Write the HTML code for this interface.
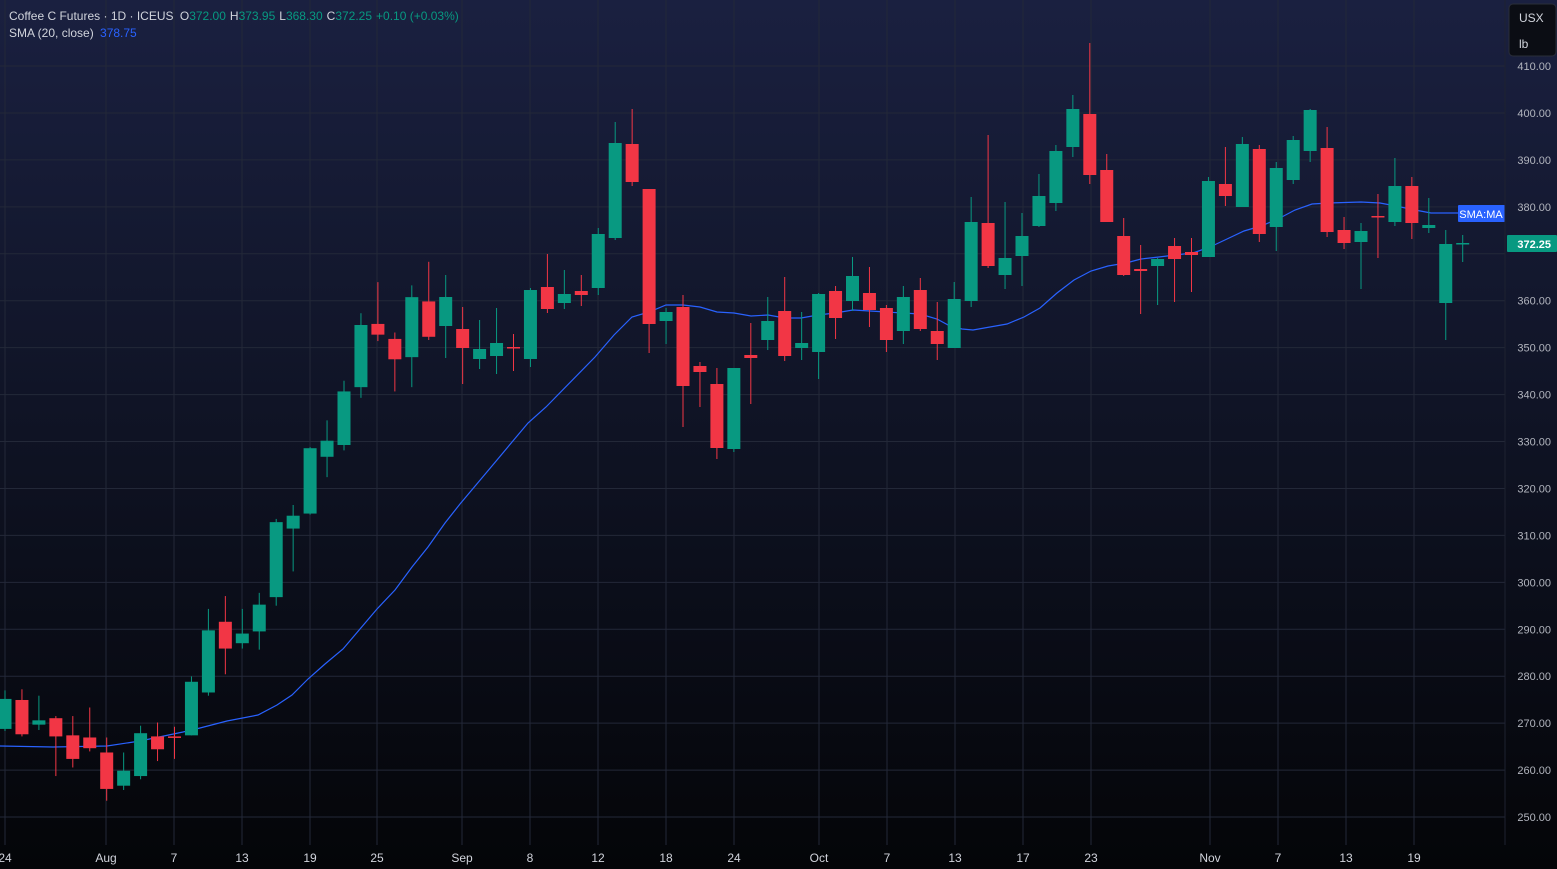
<!DOCTYPE html>
<html><head><meta charset="utf-8"><style>
html,body{margin:0;padding:0;width:1557px;height:869px;overflow:hidden;background:#0a0d17;}
svg{display:block}
text{font-family:"Liberation Sans",sans-serif;}
</style></head><body>
<svg id="c" width="1557" height="869" xmlns="http://www.w3.org/2000/svg">
<defs><linearGradient id="bg" x1="0" y1="0" x2="0" y2="1">
<stop offset="0" stop-color="#1a2040"/><stop offset="0.5" stop-color="#0f1324"/><stop offset="1" stop-color="#040508"/></linearGradient></defs>
<rect width="1557" height="869" fill="url(#bg)"/>
<g id="grid"></g><g id="sma"></g><g id="cand"></g><g id="lab"></g>
<text x="9" y="20" font-size="12" fill="#d1d4dc">Coffee C Futures · 1D · ICEUS <tspan dx="3">O</tspan><tspan fill="#089981">372.00</tspan><tspan dx="4">H</tspan><tspan fill="#089981">373.95</tspan><tspan dx="4">L</tspan><tspan fill="#089981">368.30</tspan><tspan dx="4">C</tspan><tspan fill="#089981">372.25</tspan><tspan dx="4" fill="#089981">+0.10 (+0.03%)</tspan></text>
<text x="9" y="37" font-size="12" fill="#d1d4dc">SMA (20, close) <tspan dx="3" fill="#2962ff">378.75</tspan></text>
<rect x="1509" y="4" width="47" height="52" rx="4" fill="#0b0d14" stroke="#2a2e39"/>
<text x="1519" y="22" font-size="12" fill="#d1d4dc">USX</text>
<text x="1519" y="48" font-size="12" fill="#d1d4dc">lb</text>
</svg>
<script>
const NS="http://www.w3.org/2000/svg";
function el(p,t,a,txt){const e=document.createElementNS(NS,t);for(const k in a)e.setAttribute(k,a[k]);if(txt!==undefined)e.textContent=txt;document.getElementById(p).appendChild(e);return e;}
// grid
for(let p=410;p>=250;p-=10){const y=66+(410-p)*4.694;
 el('grid','line',{x1:0,x2:1505,y1:y,y2:y,stroke:'#232838','stroke-width':1});
 if(p!==370) el('lab','text',{x:1551,y:y+4,'font-size':11,fill:'#b2b5be','text-anchor':'end'},p.toFixed(2));
}
const xl=[[5,'24'],[106,'Aug'],[174,'7'],[242,'13'],[310,'19'],[377,'25'],[462,'Sep'],[530,'8'],[598,'12'],[666,'18'],[734,'24'],[819,'Oct'],[887,'7'],[955,'13'],[1023,'17'],[1091,'23'],[1210,'Nov'],[1278,'7'],[1346,'13'],[1414,'19']];
xl.forEach(([x,t])=>{el('grid','line',{x1:x,x2:x,y1:0,y2:845,stroke:'#232838','stroke-width':1});
 el('lab','text',{x:x,y:862,'font-size':12,fill:'#d1d4dc','text-anchor':'middle'},t);});
// candles [wickTop, bodyTop, bodyBot, wickBot, green?]
const A=[[661,669,697,699,1],[660,670,702,704,0],[666,689,693,698,1],[685,687,704,741,0],[685,703,725,733,0],[677,705,715,718,0],[705,719,753,764,0],[719,736,750,754,1],[694,701,741,744,1],[691,704,716,727,0],[695,704,705,725,0],[648,653,703,703,1],[585,605,663,666,1],[573,597,622,646,0],[585,608,617,622,1],[570,581,606,623,1],[501,504,574,582,1],[488,498,510,550,1],[434,435,496,497,1],[409,428,443,462,1],[372,382,432,437,1],[309,320,378,388,1],[280,319,329,335,0],[327,333,352,382,0],[283,294,350,378,1],[261,298,331,334,0]];
const tf=y=>250+(y-250)*1.0714;
const D=A.map(r=>[tf(r[0]),tf(r[1]),tf(r[2]),tf(r[3]),r[4]]);
const B=[[275,297,326,358,1],[307,329,348,384,0],[320,349,359,369,1],[308,343,356,374,1],[334,347,348,371,0],[288,290,359,367,1],[254,287,309,313,0],[270,294,303,309,1],[275,291,295,306,0],[228,234,288,295,1],[122,143,238,240,1],[109,144,182,186,0],[189,189,324,353,0],[308,312,321,344,1],[295,307,386,427,0],[362,366,372,407,0],[368,384,448,459,0],[368,368,449,452,1],[323,355,358,404,0],[297,321,340,350,1],[277,311,356,361,0],[312,343,348,360,1],[293,294,352,379,1],[286,291,318,339,0],[257,276,301,311,1],[267,293,310,327,0],[305,308,340,352,0],[286,297,331,344,1],[278,290,329,331,0],[302,331,344,360,0],[282,299,348,348,1],
[197,222,301,307,1],[135,223,266,268,0],[202,258,275,289,1],[213,236,256,286,1],[174,196,226,227,1],[145,151,203,211,1],[95,109,147,157,1],[43,114,175,184,0],[154,170,222,222,0],[218,236,275,276,0],[245,269,271,314,0],[258,259,266,305,1],[238,246,259,302,0],[238,252,255,292,0],[177,181,257,257,1],[147,184,196,206,0],[137,144,207,207,1],[145,149,234,242,0],[162,168,227,251,1],[136,140,180,184,1],[109,110,151,162,1],[127,148,232,237,0],[217,230,243,249,0],[223,231,242,289,1],[194,216,217,258,0],[158,186,222,226,1],[177,186,223,239,0],[198,225,228,233,1],[230,244,303,340,1],[235,243,244,262,1]];
const all=D.concat(B);
all.forEach((r,i)=>{const x=5+16.95*i;const c=r[4]?'#089981':'#f23645';
 el('cand','line',{x1:x,x2:x,y1:r[0],y2:r[3],stroke:c,'stroke-width':1});
 el('cand','rect',{x:x-6.5,y:r[1],width:13,height:Math.max(1.5,r[2]-r[1]),fill:c});});
// SMA
const S=[[0,746],[53,747],[107,746],[140,741],[183,732],[200,728],[227,721],[258,715],[277,705],[292,695],[308,679],[325,664],[343,649],[360,629],[377,609],[395,590],[412,567],[428,547],[445,523],[460,504],[497,460],[528,423],[546,407],[595,357],[614,335],[632,317],[649,312],[666,305],[683,305],[700,307],[717,312],[734,313],[751,316],[768,315],[785,318],[801,318],[818,315],[835,313],[853,310],[870,311],[886,312],[903,313],[920,314],[937,319],[950,326],[962,329],[973,330],[1007,324],[1024,317],[1040,308],[1057,293],[1074,280],[1091,271],[1108,266],[1126,263],[1141,259],[1159,257],[1175,255],[1193,253],[1210,247],[1227,239],[1244,231],[1261,226],[1278,219],[1295,210],[1312,204],[1329,203],[1361,202],[1380,203],[1396,206],[1415,210],[1431,213],[1458,213]];
el('sma','polyline',{points:S.map(p=>p.join(',')).join(' '),fill:'none',stroke:'#2962ff','stroke-width':1.2});
// labels
el('lab','rect',{x:1458,y:205,width:47,height:17,fill:'#2962ff',rx:1});
el('lab','text',{x:1481,y:218,'font-size':11,fill:'#fff','text-anchor':'middle'},'SMA:MA');
el('lab','rect',{x:1507,y:235,width:50,height:17,fill:'#089981',rx:1});
el('lab','text',{x:1551,y:248,'font-size':11,fill:'#fff','text-anchor':'end','font-weight':'bold'},'372.25');
el('lab','line',{x1:1505,x2:1505,y1:0,y2:845,stroke:'#1e2230'});
</script>
</body></html>
